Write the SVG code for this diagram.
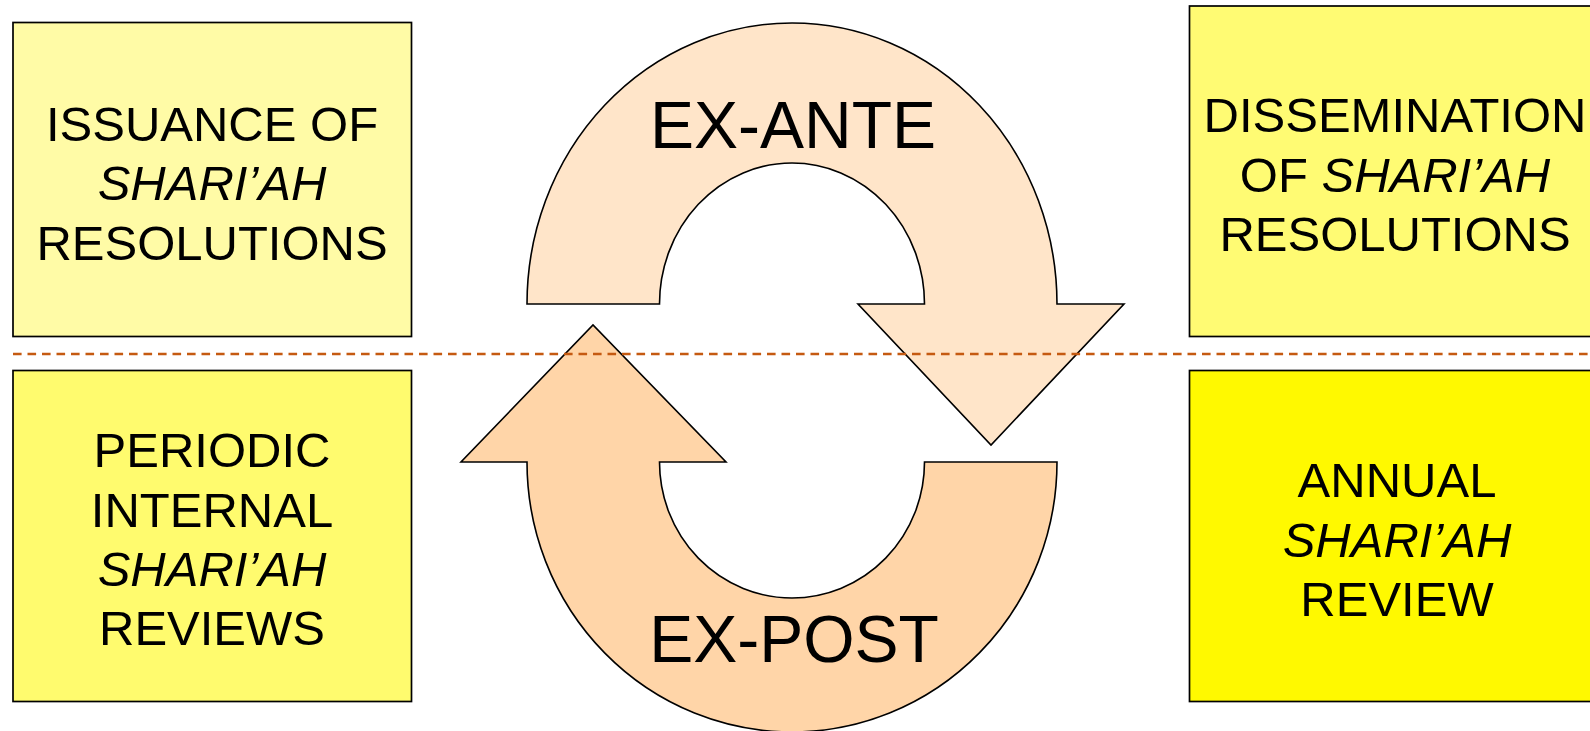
<svg xmlns="http://www.w3.org/2000/svg" width="1590" height="731" viewBox="0 0 1590 731">
<style>
.box{stroke:#000;stroke-width:1.7}
.t{font-family:"Liberation Sans",Arial,sans-serif;font-size:49px;fill:#000;text-anchor:middle}
.big{font-family:"Liberation Sans",Arial,sans-serif;font-size:66px;fill:#000;text-anchor:middle}
.i{font-style:italic}
.arrow{stroke:#000;stroke-width:1.6;stroke-linejoin:miter}
.divider{stroke:#C55A11;stroke-width:2.6;stroke-dasharray:8.6 5.9;fill:none}
</style>
<rect width="1590" height="731" fill="#fff"/>
<g id="node-issuance">
<rect class="box" x="13" y="22.5" width="398.5" height="314" fill="#FFFBA6"/>
<text class="t" x="212" y="140.5">ISSUANCE OF</text>
<text class="t i" x="212" y="200">SHARI’AH</text>
<text class="t" x="212" y="259.5">RESOLUTIONS</text>
</g>
<g id="node-dissemination">
<rect class="box" x="1189.5" y="6" width="420" height="330.5" fill="#FFFB73"/>
<text class="t" x="1395" y="132">DISSEMINATION</text>
<text class="t" x="1395" y="192">OF <tspan class="i">SHARI’AH</tspan></text>
<text class="t" x="1395" y="251">RESOLUTIONS</text>
</g>
<g id="node-periodic">
<rect class="box" x="13" y="370.5" width="398.5" height="331" fill="#FFFB6E"/>
<text class="t" x="212" y="467">PERIODIC</text>
<text class="t" x="212" y="526.5">INTERNAL</text>
<text class="t i" x="212" y="585.5">SHARI’AH</text>
<text class="t" x="212" y="645">REVIEWS</text>
</g>
<g id="node-annual">
<rect class="box" x="1189.5" y="370.5" width="420" height="331" fill="#FFF900"/>
<text class="t" x="1397" y="497">ANNUAL</text>
<text class="t i" x="1397" y="556.5">SHARI’AH</text>
<text class="t" x="1397" y="616">REVIEW</text>
</g>
<g id="node-ex-ante">
<path class="arrow" fill="#FFE5C9" d="M527,304 A265,281 0 0 1 1057,304 L1124,304 L991,445 L858,304 L924.5,304 A132.5,141 0 0 0 659.5,304 Z"/>
<text class="big" x="793" y="148">EX-ANTE</text>
</g>
<g id="node-ex-post">
<path class="arrow" fill="#FFD5A8" d="M1057,462 A265,270 0 0 1 527,462 L461,462 L593,325 L726,462 L659.5,462 A132.5,136 0 0 0 924.5,462 Z"/>
<text class="big" x="794" y="662">EX-POST</text>
</g>
<g id="connectors">
<line class="divider" x1="13" y1="354" x2="1590" y2="354"/>
</g>
</svg>
